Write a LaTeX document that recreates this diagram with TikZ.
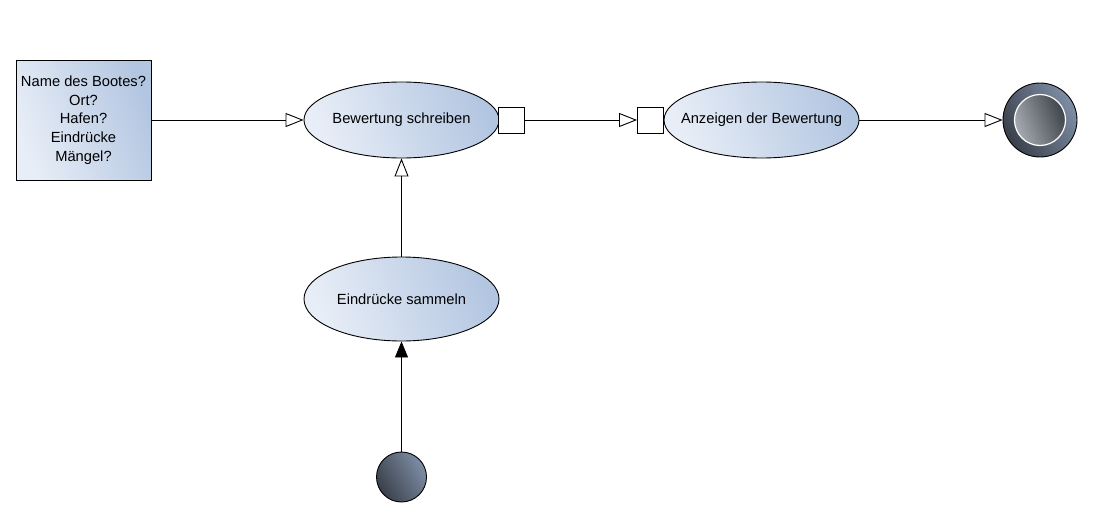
\documentclass[tikz,border=0pt]{standalone}
\usepackage{fontspec}
\setmainfont{Liberation Sans}
\usetikzlibrary{arrows.meta,shapes.geometric}
\definecolor{lightc}{HTML}{E8EEF7}
\definecolor{darkc}{HTML}{B3C6E1}
\definecolor{nodeA}{HTML}{3A404A}
\definecolor{nodeB}{HTML}{7E8EA6}
\definecolor{innerA}{HTML}{A6AAB1}
\definecolor{innerB}{HTML}{3E4249}
\tikzset{
  txt/.style={font=\fontsize{14.7}{18.6}\selectfont},
  actbox/.style={ellipse, draw=black, line width=0.9pt, minimum width=195pt, minimum height=76pt, inner sep=0pt, left color=lightc, right color=darkc, shading angle=110},
  notebox/.style={rectangle, txt, draw=black, line width=0.9pt, minimum width=135pt, minimum height=120pt, inner sep=0pt, align=center, left color=lightc, right color=darkc, shading angle=110},
  pinbox/.style={rectangle, draw=black, line width=0.9pt, fill=white, minimum size=26pt, inner sep=0pt},
  startnode/.style={circle, draw=black, line width=0.9pt, minimum size=50pt, inner sep=0pt, left color=nodeA, right color=nodeB, shading angle=120},
  flow/.style={line width=0.9pt, -{Triangle[open, length=18pt, width=14pt, line width=0.9pt]}},
  flowfilled/.style={line width=0.9pt, -{Triangle[length=16pt, width=13pt]}},
}
\begin{document}
\begin{tikzpicture}[x=1pt,y=-1pt]
\useasboundingbox (0,0) rectangle (1096,530);
\node[notebox] (note) at (83.5,120) {Name des Bootes?\\Ort?\\Hafen?\\Eindrücke\\Mängel?};
\node[actbox, label={[txt]center:Bewertung schreiben}] (write) at (401.5,120) {};
\node[pinbox] (pinout) at (511,120) {};
\node[pinbox] (pinin) at (650.5,120) {};
\node[actbox, label={[txt]center:Anzeigen der Bewertung}] (show) at (761.5,120) {};
\node[actbox, minimum height=84pt, label={[txt]center:Eindrücke sammeln}] (collect) at (401.5,299) {};
\node[startnode] (start) at (401.5,477) {};
\node[circle, draw=black, line width=0.9pt, minimum size=74pt, inner sep=0pt, left color=nodeA, right color=nodeB, shading angle=120] (final) at (1040,120) {};
\node[circle, draw=white, line width=1.2pt, minimum size=51pt, inner sep=0pt, left color=innerA, right color=innerB, shading angle=110] (finalin) at (final.center) {};
\draw[flow] (note.east) -- (write.west);
\draw[flow] (pinout.east) -- (pinin.west);
\draw[flow] (show.east) -- (final.west);
\draw[flow] (collect.north) -- (write.south);
\draw[flowfilled] (start.north) -- (collect.south);
\end{tikzpicture}
\end{document}
